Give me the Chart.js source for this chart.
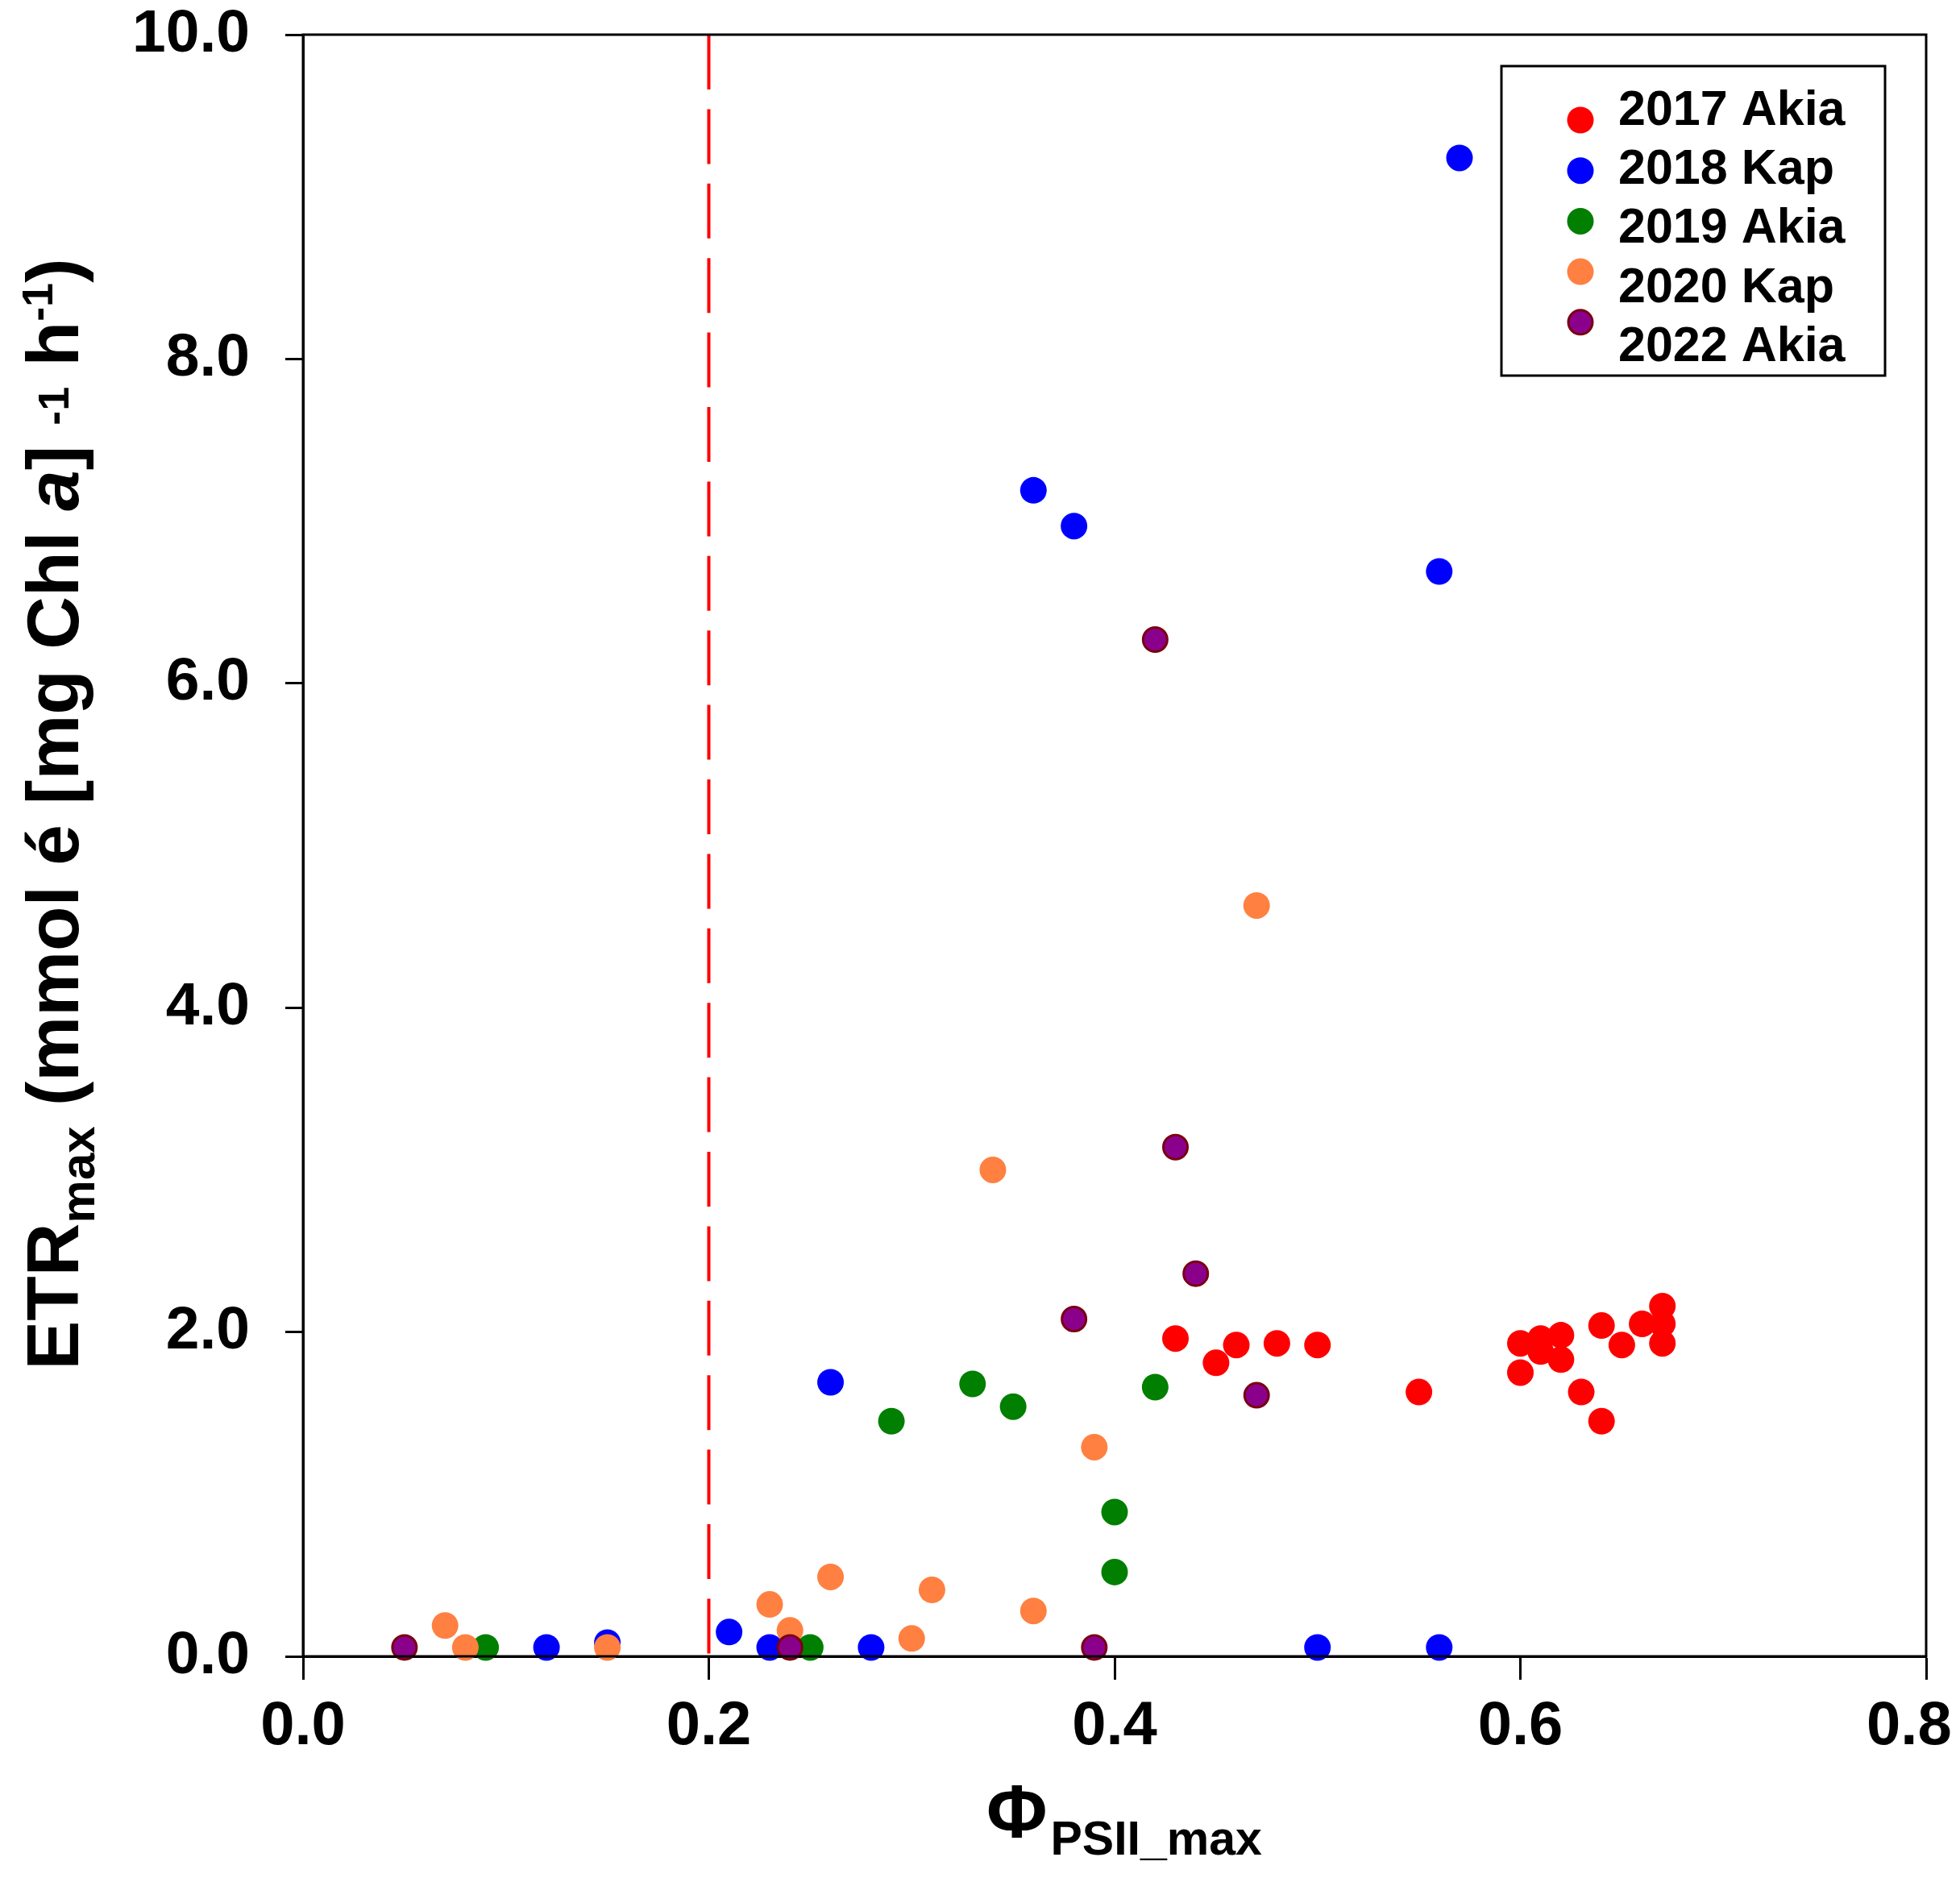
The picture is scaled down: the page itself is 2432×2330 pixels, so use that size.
<!DOCTYPE html>
<html><head><meta charset="utf-8">
<script src="https://cdn.jsdelivr.net/npm/chart.js@4.4.0/dist/chart.umd.min.js"></script>
<style>html,body{margin:0;padding:0;background:#fff;overflow:hidden}canvas{display:block}</style>
</head><body>
<canvas id="c" width="2432" height="2330"></canvas>
<script>
// ---- data ----
const seriesLabels = ['2017 Akia', '2018 Kap', '2019 Akia', '2020 Kap', '2022 Akia'];

const akia2017X = [0.43, 0.45, 0.46, 0.48, 0.50, 0.55, 0.60, 0.60, 0.61, 0.61, 0.62, 0.62, 0.63, 0.64, 0.64, 0.65, 0.66, 0.67, 0.67, 0.67];
const akia2017Y = [1.96, 1.81, 1.92, 1.93, 1.92, 1.63, 1.93, 1.75, 1.96, 1.88, 1.98, 1.83, 1.63, 2.04, 1.45, 1.92, 2.05, 2.16, 2.05, 1.93];

const kap2018X = [0.57, 0.36, 0.38, 0.56, 0.26, 0.21, 0.23, 0.28, 0.12, 0.15, 0.50, 0.56];
const kap2018Y = [9.24, 7.19, 6.97, 6.69, 1.69, 0.15, 0.055, 0.055, 0.055, 0.085, 0.055, 0.055];

const akia2019X = [0.09, 0.25, 0.29, 0.33, 0.35, 0.40, 0.40, 0.42];
const akia2019Y = [0.055, 0.055, 1.45, 1.68, 1.54, 0.89, 0.52, 1.66];

const kap2020X = [0.07, 0.08, 0.15, 0.23, 0.24, 0.26, 0.30, 0.31, 0.34, 0.36, 0.39, 0.47];
const kap2020Y = [0.19, 0.055, 0.055, 0.32, 0.16, 0.49, 0.11, 0.41, 3.00, 0.28, 1.29, 4.63];

const akia2022X = [0.05, 0.24, 0.39, 0.38, 0.42, 0.43, 0.44, 0.47];
const akia2022Y = [0.055, 0.055, 0.055, 2.08, 6.27, 3.14, 2.36, 1.61];

const thresholdX = 0.2;
const thresholdY = [10, 0];

const xTicks = [0, 0.2, 0.4, 0.6, 0.8];
const xTickLabels = ['0.0', '0.2', '0.4', '0.6', '0.8  '];
const yTicks = [0, 2, 4, 6, 8, 10];
const yTickLabels = ['0.0', '2.0', '4.0', '6.0', '8.0', '10.0'];

// ---- styles ----
const FF = '"Liberation Sans", Arial, sans-serif';
const fills = ['#FF0000', '#0000FF', '#007F00', '#FF8040', '#8B008B'];
const borders = ['#FF0000', '#0000FF', '#007F00', '#FF8040', '#7A0010'];
const borderWidths = [0, 0, 0, 0, 3];

function pts(xs, ys) { return xs.map((x, i) => ({ x: x, y: ys[i] })); }
const seriesData = [
  pts(akia2017X, akia2017Y),
  pts(kap2018X, kap2018Y),
  pts(akia2019X, akia2019Y),
  pts(kap2020X, kap2020Y),
  pts(akia2022X, akia2022Y)
];

const datasets = seriesData.map((d, i) => ({
  label: seriesLabels[i],
  data: d,
  backgroundColor: fills[i],
  borderColor: borders[i],
  borderWidth: borderWidths[i],
  pointRadius: i === 4 ? 15 : 16.5,
  pointHoverRadius: 16,
  clip: false,
  order: 5 - i
}));

datasets.push({
  label: 'threshold',
  data: thresholdY.map(y => ({ x: thresholdX, y: y })),
  showLine: true,
  borderColor: '#FF0000',
  borderWidth: 4,
  borderDash: [68, 24.4],
  pointRadius: 0,
  fill: false,
  order: 10
});

function labelFor(ticks, labels, v) {
  const i = ticks.findIndex(t => Math.abs(t - v) < 1e-9);
  return i >= 0 ? labels[i] : '';
}

const framePlugin = {
  id: 'frame',
  afterDatasetsDraw(chart) {
    const a = chart.chartArea, ctx = chart.ctx;
    ctx.save();
    ctx.strokeStyle = '#000';
    ctx.lineWidth = 3;
    ctx.strokeRect(a.left, a.top, a.right - a.left, a.bottom - a.top);
    ctx.restore();
  }
};

const legendPlugin = {
  id: 'customLegend',
  afterDraw(chart) {
    const ctx = chart.ctx;
    ctx.save();
    ctx.strokeStyle = '#000';
    ctx.lineWidth = 3;
    ctx.fillStyle = '#fff';
    ctx.fillRect(1863, 82, 476, 384);
    ctx.strokeRect(1863, 82, 476, 384);
    const ds = chart.data.datasets;
    for (let i = 0; i < seriesLabels.length; i++) {
      const cy = 149 + i * 62.7;
      ctx.beginPath();
      ctx.arc(1961, cy, i === 4 ? 15 : 16.5, 0, Math.PI * 2);
      ctx.fillStyle = ds[i].backgroundColor;
      ctx.fill();
      if (ds[i].borderWidth > 0) {
        ctx.lineWidth = ds[i].borderWidth;
        ctx.strokeStyle = ds[i].borderColor;
        ctx.stroke();
      }
      ctx.fillStyle = '#000';
      ctx.font = 'bold 61px ' + FF;
      ctx.textAlign = 'left';
      ctx.textBaseline = 'alphabetic';
      ctx.fillText(ds[i].label, 2008, 155 + i * 73.2);
    }
    ctx.restore();
  }
};

const titlePlugin = {
  id: 'axisTitles',
  afterDraw(chart) {
    const ctx = chart.ctx;
    ctx.save();
    ctx.fillStyle = '#000';
    ctx.textAlign = 'left';
    ctx.textBaseline = 'alphabetic';
    const parts = [
      { t: 'ETR', f: 'bold 91px ' + FF, dy: 0 },
      { t: 'max', f: 'bold 60px ' + FF, dy: 20 },
      { t: ' (mmol é [mg Chl ', f: 'bold 91px ' + FF, dy: 0 },
      { t: 'a', f: 'italic bold 91px ' + FF, dy: 0 },
      { t: '] ', f: 'bold 91px ' + FF, dy: 0 },
      { t: '-1', f: 'bold 54px ' + FF, dy: -12 },
      { t: ' h', f: 'bold 91px ' + FF, dy: 0 },
      { t: '-1', f: 'bold 54px ' + FF, dy: -32 },
      { t: ')', f: 'bold 91px ' + FF, dy: 0 }
    ];
    let total = 0;
    parts.forEach(p => { ctx.font = p.f; p.w = ctx.measureText(p.t).width; total += p.w; });
    ctx.save();
    ctx.translate(97, 1010);
    ctx.rotate(-Math.PI / 2);
    let x = -total / 2;
    parts.forEach(p => { ctx.font = p.f; ctx.fillText(p.t, x, p.dy); x += p.w; });
    ctx.restore();

    // x title
    ctx.font = 'bold 92px ' + FF;
    ctx.fillText('Φ', 1224, 2280);
    const wPhi = ctx.measureText('Φ').width;
    ctx.font = 'bold 59px ' + FF;
    ctx.fillText('PSII_max', 1224 + wPhi + 4, 2301);
    ctx.restore();
  }
};

new Chart(document.getElementById('c'), {
  type: 'scatter',
  data: { datasets: datasets },
  options: {
    responsive: false,
    devicePixelRatio: 1,
    animation: false,
    events: [],
    layout: { padding: { left: 0, right: 42, top: 43, bottom: 0 } },
    plugins: { legend: { display: false }, tooltip: { enabled: false } },
    scales: {
      x: {
        type: 'linear',
        min: 0, max: 0.8,
        afterBuildTicks(scale) { scale.ticks = xTicks.map(v => ({ value: v })); },
        afterFit(scale) { scale.height = 275; scale.paddingLeft = 0; scale.paddingRight = 0; },
        grid: { drawOnChartArea: false, drawTicks: true, tickLength: 29, tickWidth: 3, tickColor: '#000' },
        border: { display: true, color: '#000', width: 3 },
        ticks: {
          padding: 21,
          maxRotation: 0,
          autoSkip: false,
          color: '#000',
          font: { family: FF, size: 76, weight: 'bold', lineHeight: 1 },
          callback: v => labelFor(xTicks, xTickLabels, v)
        },
        title: { display: false }
      },
      y: {
        type: 'linear',
        min: 0, max: 10,
        afterBuildTicks(scale) { scale.ticks = yTicks.map(v => ({ value: v })); },
        afterFit(scale) { scale.width = 376; scale.paddingTop = 0; scale.paddingBottom = 0; },
        grid: { drawOnChartArea: false, drawTicks: true, tickLength: 22, tickWidth: 3, tickColor: '#000' },
        border: { display: true, color: '#000', width: 3 },
        ticks: {
          padding: 44,
          autoSkip: false,
          color: '#000',
          font: { family: FF, size: 75, weight: 'bold', lineHeight: 1 },
          callback: v => labelFor(yTicks, yTickLabels, v)
        },
        title: { display: false }
      }
    }
  },
  plugins: [framePlugin, legendPlugin, titlePlugin]
});
</script>
</body></html>
